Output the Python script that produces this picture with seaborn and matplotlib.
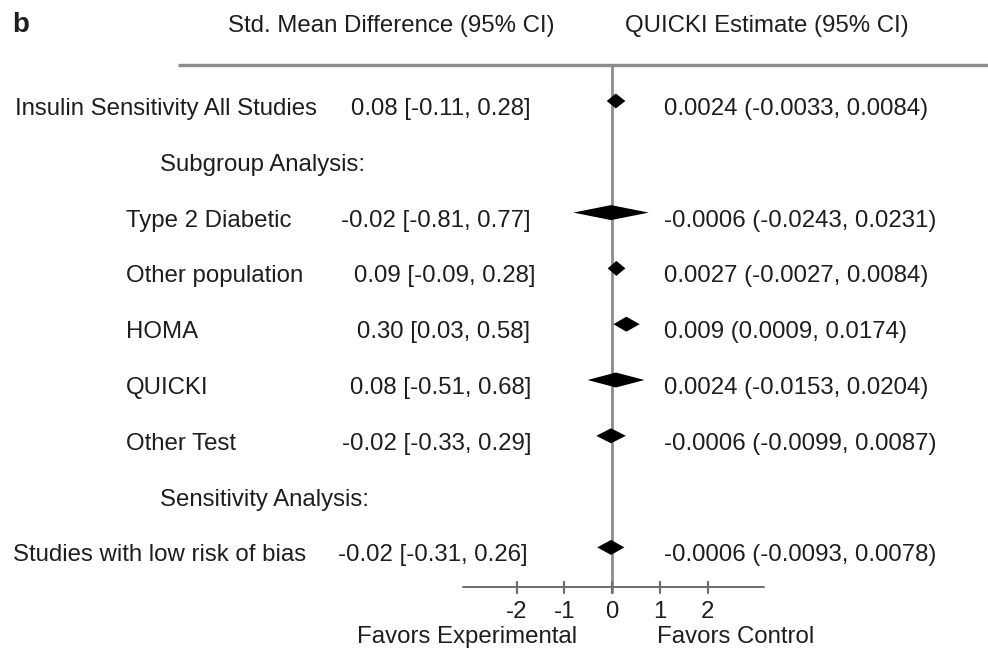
import matplotlib
matplotlib.use("Agg")
import matplotlib.pyplot as plt
import seaborn as sns

# ---------------- data ----------------
row_labels = ["Insulin Sensitivity All Studies", "Subgroup Analysis:", "Type 2 Diabetic",
              "Other population", "HOMA", "QUICKI", "Other Test",
              "Sensitivity Analysis:", "Studies with low risk of bias"]
smd_est = [0.08, None, -0.02, 0.09, 0.30, 0.08, -0.02, None, -0.02]
smd_lo = [-0.11, None, -0.81, -0.09, 0.03, -0.51, -0.33, None, -0.31]
smd_hi = [0.28, None, 0.77, 0.28, 0.58, 0.68, 0.29, None, 0.26]
smd_text = ["0.08 [-0.11, 0.28]", "", "-0.02 [-0.81, 0.77]", "0.09 [-0.09, 0.28]",
            "0.30 [0.03, 0.58]", "0.08 [-0.51, 0.68]", "-0.02 [-0.33, 0.29]", "",
            "-0.02 [-0.31, 0.26]"]
quicki_text = ["0.0024 (-0.0033, 0.0084)", "", "-0.0006 (-0.0243, 0.0231)",
               "0.0027 (-0.0027, 0.0084)", "0.009 (0.0009, 0.0174)",
               "0.0024 (-0.0153, 0.0204)", "-0.0006 (-0.0099, 0.0087)", "",
               "-0.0006 (-0.0093, 0.0078)"]
tick_values = [-2, -1, 0, 1, 2]
tick_labels = ["-2", "-1", "0", "1", "2"]
header_left = "Std. Mean Difference (95% CI)"
header_right = "QUICKI Estimate (95% CI)"
favors_left = "Favors Experimental"
favors_right = "Favors Control"
panel_letter = "b"

# ---------------- layout ----------------
W, H = 988, 652
X0, XU = 612.0, 47.75          # pixel of 0 and pixels per unit
Y0, YU = 101.0, 55.8           # pixel of first row and pixels per row
label_x = [15, 160, 126, 126, 126, 126, 126, 160, 13]
smd_right = [531, 0, 531, 536, 530, 531, 531, 0, 528]
quicki_left = 664
text_drop = 14                 # baseline offset below diamond centre (px)

def dx(p):
    return (p - X0) / XU

def dy(p):
    return (p - Y0) / YU

sns.set_theme(style="white")
plt.rcParams["font.family"] = ["Liberation Sans", "DejaVu Sans"]

fig = plt.figure(figsize=(W / 100, H / 100), dpi=100)
ax = fig.add_axes([0, 0, 1, 1])
ax.set_xlim(dx(0), dx(W))
ax.set_ylim(dy(H), dy(0))
ax.axis("off")

txt_col = "#1e1e1e"
line_col = "#8c8c8c"
axis_col = "#6e6e6e"
fs = 17.3
tdrop = text_drop / YU

# header
ax.text(dx(12), dy(32), panel_letter, fontsize=20, fontweight="bold", color=txt_col,
        ha="left", va="baseline")
ax.text(dx(391), dy(32), header_left, fontsize=fs, color=txt_col, ha="center", va="baseline")
ax.text(dx(767), dy(32), header_right, fontsize=fs, color=txt_col, ha="center", va="baseline")

# top rule and null line
ax.plot([dx(178), dx(W)], [dy(65), dy(65)], color=line_col, lw=2.4, solid_capstyle="butt")
ax.plot([0, 0], [dy(65), dy(593)], color=line_col, lw=2.0, solid_capstyle="butt")

# x axis
ax.plot([dx(463), dx(764)], [dy(587), dy(587)], color=axis_col, lw=1.4)
for v, lab in zip(tick_values, tick_labels):
    ax.plot([v, v], [dy(582), dy(593)], color=axis_col, lw=1.6)
    ax.text(v, dy(618), lab, fontsize=fs, color=txt_col, ha="center", va="baseline")
ax.text(dx(577), dy(643), favors_left, fontsize=fs, color=txt_col, ha="right", va="baseline")
ax.text(dx(657), dy(643), favors_right, fontsize=fs, color=txt_col, ha="left", va="baseline")

# rows
hh = 7.5 / YU
for i, lab in enumerate(row_labels):
    ax.text(dx(label_x[i]), i + tdrop, lab, fontsize=fs, color=txt_col,
            ha="left", va="baseline")
    if smd_est[i] is not None:
        ax.text(dx(smd_right[i]), i + tdrop, smd_text[i], fontsize=fs, color=txt_col,
                ha="right", va="baseline")
        ax.text(dx(quicki_left), i + tdrop, quicki_text[i], fontsize=fs, color=txt_col,
                ha="left", va="baseline")
        xs = [smd_lo[i], smd_est[i], smd_hi[i], smd_est[i]]
        ys = [i, i - hh, i, i + hh]
        ax.fill(xs, ys, color="black", lw=0, zorder=3)

fig.savefig("out.png", dpi=100)
